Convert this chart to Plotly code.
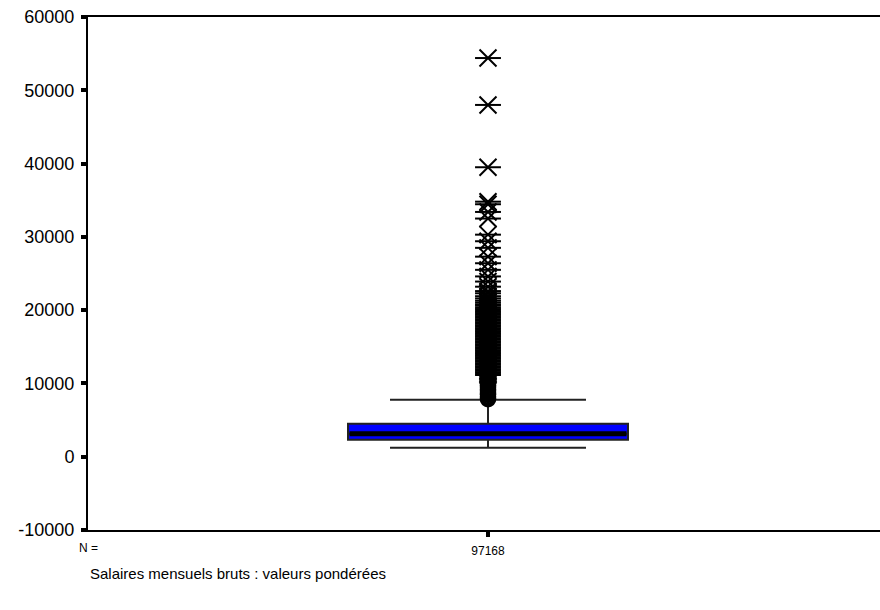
import plotly.graph_objects as go

# ---- data ----
n_label = "97168"
q1 = 2320
median = 3150
q3 = 4500
lower_whisker = 1230
upper_whisker = 7780

# outliers (circles): between 1.5 and 3 IQR above Q3
outliers = [11000, 10800, 10650, 10400, 10200, 10000, 9800, 9650, 9400, 9200,
            9000, 8800, 8600, 8450, 8200, 8000, 7850]

# extremes (asterisks): beyond 3 IQR above Q3
extremes = [54400, 48000, 39500, 34800, 34450, 33400, 32500, 30300, 29400,
            28500, 27300, 26400, 25500, 24600, 23900, 23200, 22600, 22300,
            21900, 21600, 21300, 21050, 20800, 20600, 20350, 20150, 19950,
            19750, 19550, 19350, 19150, 18950, 18750, 18550, 18350, 18150,
            17950, 17750, 17550, 17350, 17150, 16950, 16750, 16550, 16350,
            16150, 15950, 15750, 15550, 15350, 15150, 14950, 14750, 14550,
            14350, 14150, 13950, 13750, 13550, 13350, 13150, 12950, 12750,
            12550, 12350, 12150, 11950, 11750, 11550, 11350, 11150]

y_ticks = [-10000, 0, 10000, 20000, 30000, 40000, 50000, 60000]
x_title = "Salaires mensuels bruts : valeurs pondérées"

FONT = "Liberation Sans, Arial, sans-serif"

# ---- figure ----
BOX_W = 0.707
fig = go.Figure()

fig.add_trace(go.Box(
    x=[0], q1=[q1], median=[median], q3=[q3],
    lowerfence=[lower_whisker], upperfence=[upper_whisker],
    width=BOX_W, whiskerwidth=0.7,
    fillcolor="#0000FF", line=dict(color="#222222", width=2),
    boxpoints=False, showlegend=False, hoverinfo="skip",
))

# thick median line
fig.add_trace(go.Scatter(
    x=[-BOX_W / 2 + 0.004, BOX_W / 2 - 0.004], y=[median, median],
    mode="lines", line=dict(color="black", width=5),
    showlegend=False, hoverinfo="skip",
))

# outliers as open circles
fig.add_trace(go.Scatter(
    x=[0] * len(outliers), y=outliers, mode="markers",
    marker=dict(symbol="circle-open", size=14, color="black",
                line=dict(color="black", width=2.5)),
    showlegend=False, hoverinfo="skip",
))

# extremes as asterisks (X + horizontal bar)
fig.add_trace(go.Scatter(
    x=[0] * len(extremes), y=extremes, mode="markers",
    marker=dict(symbol="x-thin-open", size=17, color="black",
                line=dict(color="black", width=2)),
    showlegend=False, hoverinfo="skip",
))
fig.add_trace(go.Scatter(
    x=[0] * len(extremes), y=extremes, mode="markers",
    marker=dict(symbol="line-ew-open", size=18.5, color="black",
                line=dict(color="black", width=2)),
    showlegend=False, hoverinfo="skip",
))

fig.update_layout(
    width=880, height=610,
    margin=dict(l=88, r=0, t=17, b=80),
    paper_bgcolor="white", plot_bgcolor="white",
    font=dict(family=FONT, color="black"),
    xaxis=dict(
        range=[-1.0101, 0.9899], showgrid=False, zeroline=False,
        showline=True, linecolor="black", linewidth=2, mirror=True,
        tickvals=[0], ticktext=[n_label], ticks="outside",
        ticklen=5, tickwidth=4, tickcolor="black",
        tickfont=dict(size=12, family=FONT),
        ticklabelstandoff=4,
    ),
    yaxis=dict(
        range=[-10000, 60000], showgrid=False, zeroline=False,
        showline=True, linecolor="black", linewidth=2,
        tickvals=y_ticks, ticktext=[str(v) for v in y_ticks],
        ticks="outside", ticklen=5, tickwidth=4, tickcolor="black",
        tickfont=dict(size=18, family=FONT),
        ticklabelstandoff=3,
    ),
    annotations=[
        dict(text="N =", xref="paper", yref="paper", x=0, y=-0.018,
             xanchor="center", yanchor="top", showarrow=False,
             font=dict(size=12, family=FONT)),
        dict(text=x_title, xref="paper", yref="paper", x=0, y=-0.084,
             xanchor="left", yanchor="middle", showarrow=False,
             font=dict(size=15, family=FONT)),
    ],
)

fig.write_html("out.html")
